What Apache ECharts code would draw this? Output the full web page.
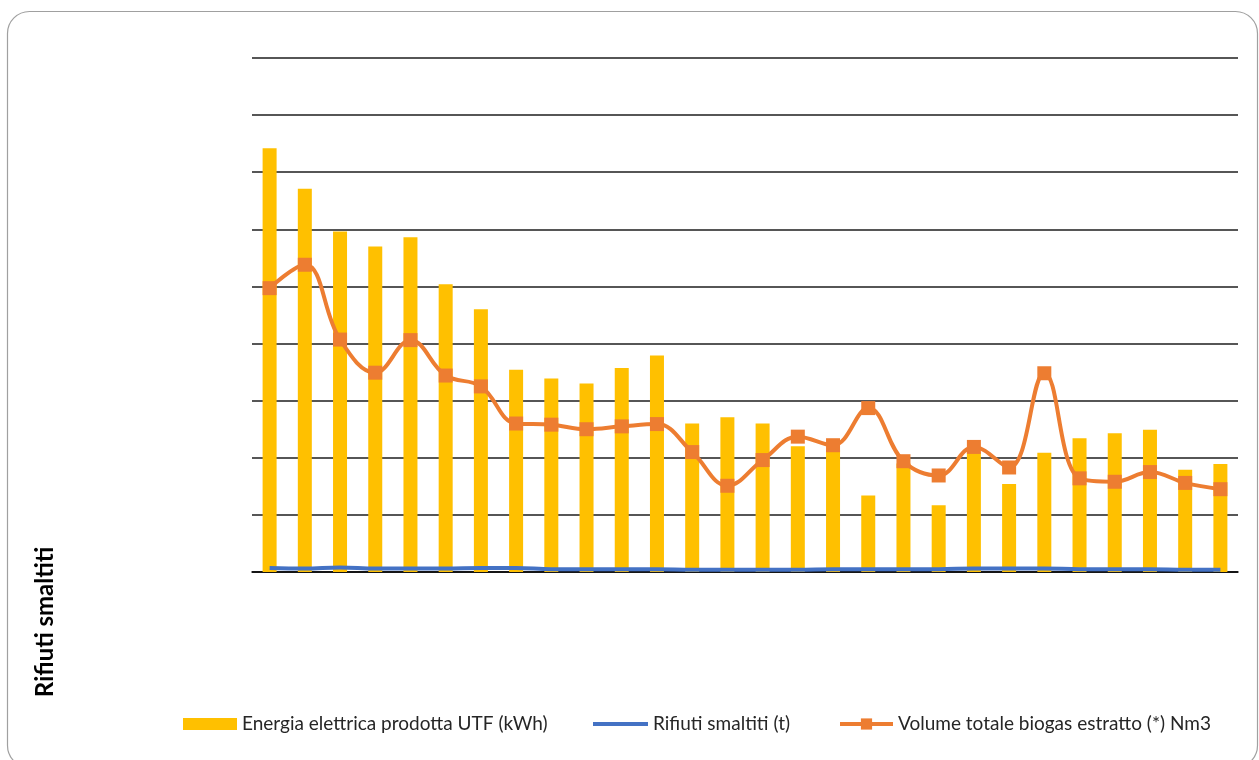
<!DOCTYPE html>
<html>
<head>
<meta charset="utf-8">
<script src="https://cdn.jsdelivr.net/npm/echarts@6/dist/echarts.min.js"></script>
<style>
  html, body { margin: 0; padding: 0; background: #fff; }
  #chart { width: 1259px; height: 760px; }
</style>
</head>
<body>
<div id="chart"></div>
<script>
// Monthly periods (category axis, labels not shown)
const periodi = ['1','2','3','4','5','6','7','8','9','10','11','12','13','14',
                 '15','16','17','18','19','20','21','22','23','24','25','26','27','28'];

// Energia elettrica prodotta UTF (kWh)
const energia = [742, 671, 596, 570, 586, 504, 460, 354, 339, 330, 357, 379, 260, 271,
                 260, 220, 214, 134, 190, 117, 210, 154, 209, 234, 243, 249, 179, 189];

// Rifiuti smaltiti (t)
const rifiuti = [7, 6, 8, 6, 6, 6, 7, 7, 5, 5, 5, 5, 4, 4,
                 4, 4, 5, 5, 5, 5, 6, 6, 6, 5, 5, 5, 4, 4];

// Volume totale biogas estratto (*) Nm3
const biogas = [497, 538, 407, 349, 406, 344, 325, 260, 258, 250, 255, 259, 210, 151,
                196, 237, 222, 287, 194, 169, 219, 183, 348, 164, 158, 175, 156, 145];

const nomi = ['Energia elettrica prodotta UTF (kWh)', 'Rifiuti smaltiti (t)', 'Volume totale biogas estratto (*) Nm3'];

const FONT = 'Lato, "Open Sans", sans-serif';
const legendText = { fontFamily: FONT, fontSize: 19, color: '#262626', lineHeight: 20 };

const chart = echarts.init(document.getElementById('chart'), null, { renderer: 'canvas' });

chart.setOption({
  animation: false,
  backgroundColor: '#ffffff',
  grid: { left: 252, right: 21, top: 58, bottom: 188, containLabel: false },
  xAxis: {
    type: 'category',
    data: periodi,
    axisLine: { show: true, lineStyle: { color: '#000000', width: 1.5 } },
    axisTick: { show: false },
    axisLabel: { show: false },
    splitLine: { show: false }
  },
  yAxis: {
    type: 'value',
    min: 0,
    max: 900,
    interval: 100,
    axisLine: { show: false },
    axisTick: { show: false },
    axisLabel: { show: false },
    splitLine: { lineStyle: { color: '#1e1e1e', width: 1.5 } }
  },
  legend: [
    {
      data: [{ name: nomi[0], icon: 'rect' }],
      left: 183, top: 714, padding: 0,
      itemWidth: 54, itemHeight: 12,
      textStyle: legendText
    },
    {
      data: [{ name: nomi[1], icon: 'rect' }],
      left: 593, top: 714, padding: 0,
      itemWidth: 55, itemHeight: 4,
      textStyle: legendText
    },
    {
      data: [nomi[2]],
      left: 838, top: 714, padding: 0,
      itemWidth: 53, itemHeight: 14,
      lineStyle: { width: 4 },
      textStyle: legendText
    }
  ],
  graphic: [
    {
      type: 'rect',
      shape: { x: 7.5, y: 11.5, width: 1250, height: 756, r: 22 },
      style: { fill: 'none', stroke: '#a0a0a0', lineWidth: 1.2 },
      silent: true,
      z: -1
    },
    {
      type: 'text',
      x: 45, y: 622,
      rotation: Math.PI / 2,
      style: {
        text: 'Rifiuti smaltiti',
        fontFamily: FONT,
        fontWeight: 'bold',
        fontSize: 24,
        fill: '#000000',
        align: 'center',
        verticalAlign: 'middle'
      }
    }
  ],
  series: [
    {
      name: nomi[0],
      type: 'bar',
      data: energia,
      barWidth: 14,
      itemStyle: { color: '#FFC000' }
    },
    {
      name: nomi[1],
      type: 'line',
      data: rifiuti,
      smooth: 0.4,
      symbol: 'none',
      lineStyle: { color: '#4472C4', width: 4 },
      itemStyle: { color: '#4472C4' }
    },
    {
      name: nomi[2],
      type: 'line',
      data: biogas,
      smooth: 0.4,
      symbol: 'rect',
      symbolSize: 14,
      lineStyle: { color: '#ED7D31', width: 4 },
      itemStyle: { color: '#ED7D31' }
    }
  ]
});
</script>
</body>
</html>
